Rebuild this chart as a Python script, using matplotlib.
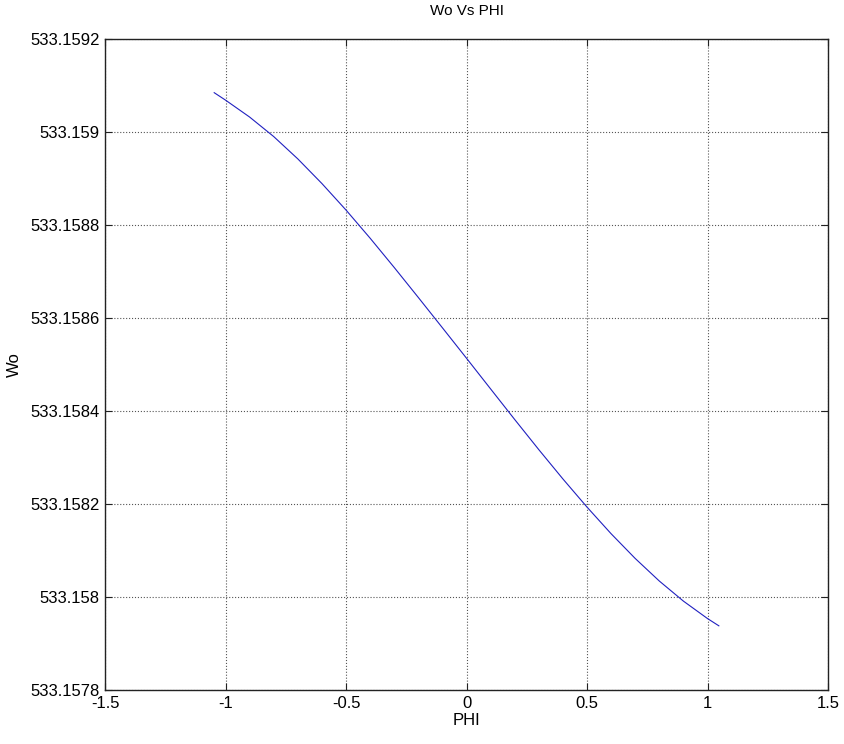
import numpy as np
import matplotlib
matplotlib.use('Agg')
import matplotlib.pyplot as plt
from matplotlib.ticker import FuncFormatter

plt.rcParams['font.family'] = ['Liberation Sans', 'DejaVu Sans']

# ─── Datos ───────────────────────────────────────────────────────────────────
phi = [-1.047, -1.0, -0.9, -0.8, -0.7, -0.6, -0.5, -0.4, -0.3, -0.2, -0.1,
       0.0, 0.1, 0.2, 0.3, 0.4, 0.5, 0.6, 0.7, 0.8, 0.9, 1.0, 1.047]
wo = [533.1590845, 533.1590685, 533.1590321, 533.1589901, 533.1589421,
      533.1588891, 533.1588321, 533.1587716, 533.1587086, 533.1586441,
      533.1585789, 533.1585134, 533.1584474, 533.1583816, 533.1583168,
      533.1582538, 533.1581933, 533.1581360, 533.1580828, 533.1580343,
      533.1579911, 533.1579536, 533.1579380]

x_ticks = [-1.5, -1, -0.5, 0, 0.5, 1, 1.5]
y_ticks = [533.1578, 533.1580, 533.1582, 533.1584, 533.1586, 533.1588,
           533.1590, 533.1592]

# ─── Gráfica ──────────────────────────────────────────────────────────────────
fig = plt.figure(figsize=(8.45, 7.44), dpi=100)
ax = fig.add_axes([0.1243, 0.0726, 0.8556, 0.875])

ax.plot(phi, wo, color='#2020c0', lw=0.8)

ax.set_xlim(-1.5, 1.5)
ax.set_ylim(533.1578, 533.1592)
ax.set_xticks(x_ticks)
ax.set_yticks(y_ticks)
ax.xaxis.set_major_formatter(FuncFormatter(lambda v, p: f'{v:g}'))
ax.yaxis.set_major_formatter(FuncFormatter(lambda v, p: f'{v:.7g}'))
ax.tick_params(direction='in', top=True, right=True, length=5, labelsize=12,
               width=0.8, colors='#222222', labelcolor='black', pad=4)
ax.grid(True, linestyle=':', color='#555555', lw=0.8)
for s in ax.spines.values():
    s.set_linewidth(1.0)
    s.set_color('#222222')

ax.set_title('Wo Vs PHI', fontsize=11, pad=17)
ax.set_xlabel('PHI', fontsize=12, labelpad=2)
ax.set_ylabel('Wo', fontsize=12, labelpad=6)

fig.savefig('out.png', dpi=100)
